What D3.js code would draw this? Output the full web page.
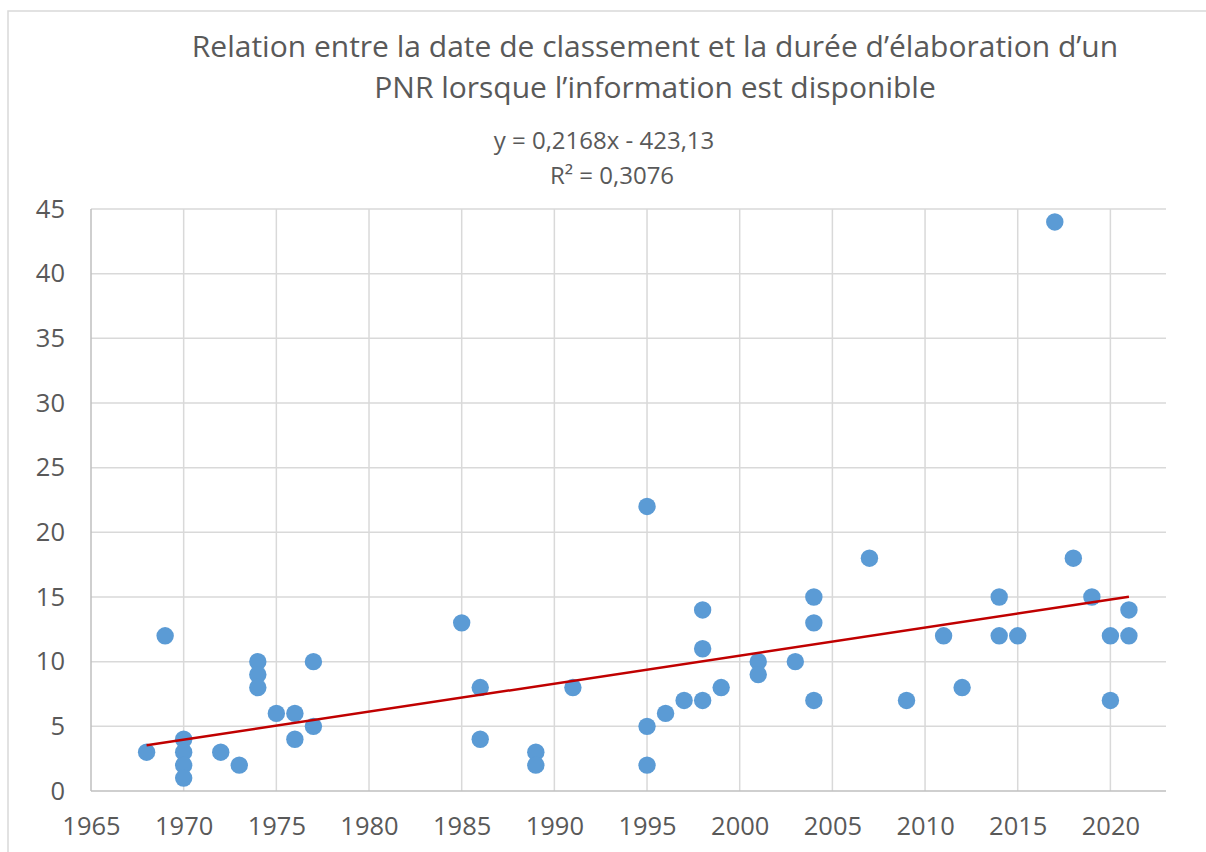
<!DOCTYPE html>
<html>
<head>
<meta charset="utf-8">
<script src="https://cdn.jsdelivr.net/npm/d3@7"></script>
<style>
  body { margin: 0; background: #fff; }
  svg { display: block; font-family: "Open Sans", sans-serif; }
</style>
</head>
<body>
<svg id="chart" width="1206" height="852"></svg>
<script>
// Données (année de classement, durée d'élaboration)
const years = [1968, 1969, 1970, 1970, 1970, 1970, 1972, 1973, 1974, 1974, 1974, 1975,
  1976, 1976, 1977, 1977, 1985, 1986, 1986, 1989, 1989, 1991, 1995, 1995, 1995, 1996,
  1997, 1998, 1998, 1998, 1999, 2001, 2001, 2003, 2004, 2004, 2004, 2007, 2009, 2011,
  2012, 2014, 2014, 2015, 2017, 2018, 2019, 2020, 2020, 2021, 2021];
const durations = [3, 12, 4, 3, 2, 1, 3, 2, 10, 9, 8, 6,
  6, 4, 10, 5, 13, 8, 4, 3, 2, 8, 22, 5, 2, 6,
  7, 14, 11, 7, 8, 10, 9, 10, 15, 13, 7, 18, 7, 12,
  8, 15, 12, 12, 44, 18, 15, 12, 7, 14, 12];

// Courbe de tendance linéaire (Excel)
const trendCoef = [0.2168, -423.13];
const trendRange = [1968, 2021];

const xTicks = [1965, 1970, 1975, 1980, 1985, 1990, 1995, 2000, 2005, 2010, 2015, 2020];
const yTicks = [0, 5, 10, 15, 20, 25, 30, 35, 40, 45];

const titleLines = [
  "Relation entre la date de classement et la durée d’élaboration d’un",
  "PNR lorsque l’information est disponible"
];
const eqLines = ["y = 0,2168x - 423,13", "R² = 0,3076"];

const svg = d3.select('#chart');
const margin = { left: 91, right: 1166, top: 209, bottom: 791 };

const x = d3.scaleLinear().domain([1965, 2023]).range([margin.left, margin.right]);
const y = d3.scaleLinear().domain([0, 45]).range([margin.bottom, margin.top]);

// cadre du graphique
svg.append('path')
  .attr('d', `M8,852 V11 H1206`)
  .attr('fill', 'none')
  .attr('stroke', '#d9d9d9')
  .attr('stroke-width', 1.5);

// quadrillage
const grid = svg.append('g');
grid.selectAll('line.h').data(yTicks.slice(1)).join('line')
  .attr('x1', margin.left).attr('x2', margin.right)
  .attr('y1', d => y(d)).attr('y2', d => y(d))
  .attr('stroke', '#d9d9d9').attr('stroke-width', 1.5);
grid.selectAll('line.v').data(xTicks.slice(1)).join('line')
  .attr('x1', d => x(d)).attr('x2', d => x(d))
  .attr('y1', margin.top).attr('y2', margin.bottom)
  .attr('stroke', '#d9d9d9').attr('stroke-width', 1.5);

// axes
const xAxis = svg.append('g')
  .attr('transform', `translate(0,${margin.bottom})`)
  .call(d3.axisBottom(x).tickValues(xTicks).tickSize(0).tickPadding(26).tickFormat(d3.format('d')));
const yAxis = svg.append('g')
  .attr('transform', `translate(${margin.left},0)`)
  .call(d3.axisLeft(y).tickValues(yTicks).tickSize(0).tickPadding(26));

[xAxis, yAxis].forEach(a => {
  a.select('.domain').attr('stroke', '#bfbfbf').attr('stroke-width', 1.5);
  a.selectAll('text').attr('fill', '#595959').attr('font-size', '25.5px')
    .attr('font-family', '"Open Sans", sans-serif');
});
xAxis.select('.domain').attr('d', `M${margin.left},0H${margin.right}`);
yAxis.select('.domain').attr('d', `M0,${margin.top}V${margin.bottom}`);

// points
svg.append('g').selectAll('circle').data(years).join('circle')
  .attr('cx', d => x(d))
  .attr('cy', (d, i) => y(durations[i]))
  .attr('r', 8.7)
  .attr('fill', '#5b9bd5');

// tendance
const trend = trendRange.map(v => [v, trendCoef[0] * v + trendCoef[1]]);
svg.append('path')
  .datum(trend)
  .attr('d', d3.line().x(d => x(d[0])).y(d => y(d[1])))
  .attr('fill', 'none')
  .attr('stroke', '#c00000')
  .attr('stroke-width', 2.5);

// titre
svg.append('g').selectAll('text').data(titleLines).join('text')
  .attr('x', 655)
  .attr('y', (d, i) => 57 + i * 41)
  .attr('text-anchor', 'middle')
  .attr('font-size', '30px')
  .attr('fill', '#595959')
  .text(d => d);

// équation
svg.append('g').selectAll('text').data(eqLines).join('text')
  .attr('x', (d, i) => i === 0 ? 604 : 612)
  .attr('y', (d, i) => 149 + i * 35)
  .attr('text-anchor', 'middle')
  .attr('font-size', '24px')
  .attr('fill', '#595959')
  .text(d => d);
</script>
</body>
</html>
